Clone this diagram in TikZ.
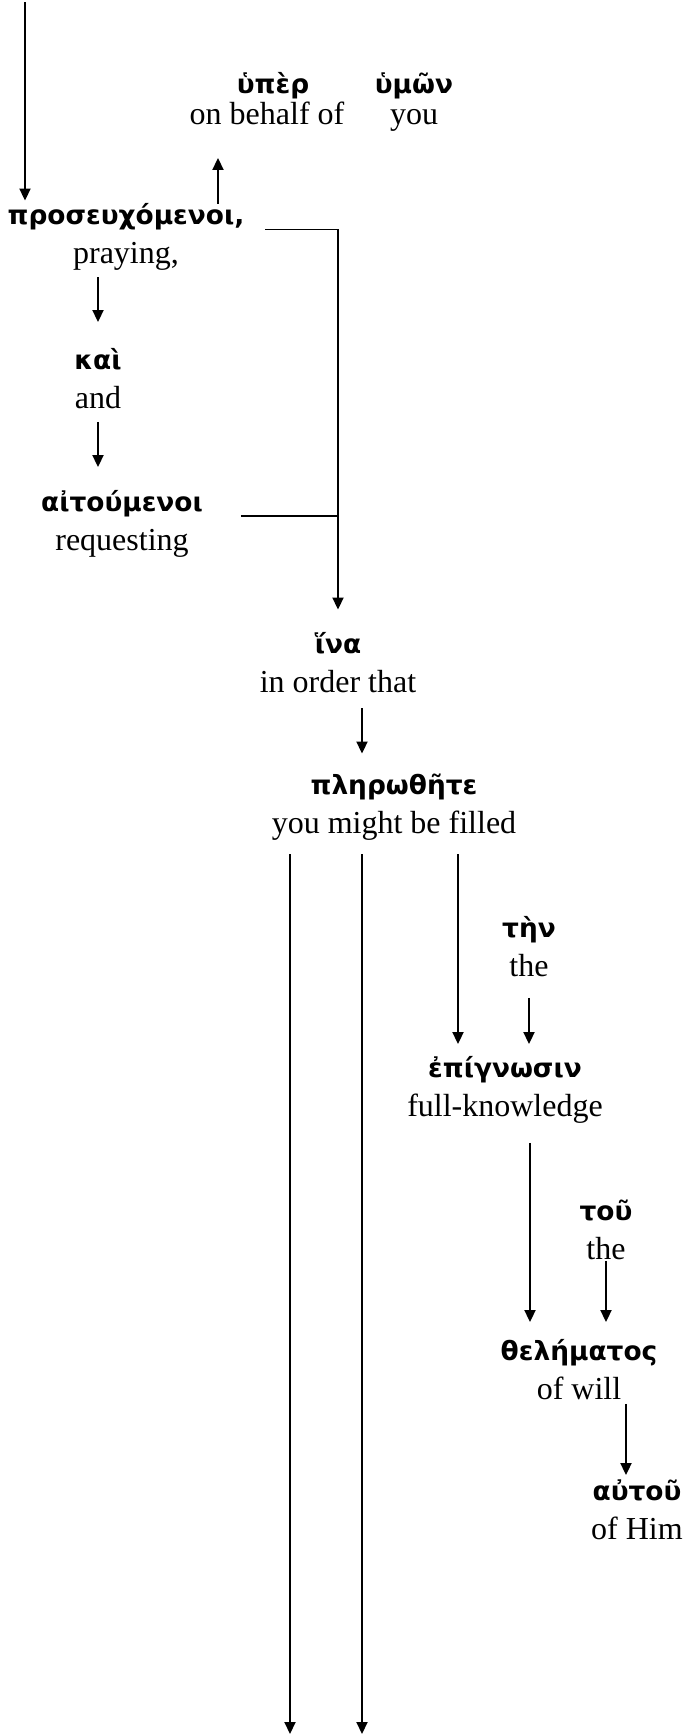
\documentclass[tikz,border=0pt]{standalone}
\usepackage{fontspec}
\setmainfont{Liberation Serif}
\newfontfamily\gkfont{DejaVu Sans}
\usetikzlibrary{arrows.meta}
% greek word over its english gloss
\newcommand{\gr}[1]{{\gkfont\bfseries\fontsize{13.2}{19.5}\selectfont\rule{0pt}{12pt}#1}}
\newcommand{\gloss}[2]{\gr{#1}\\\rule[-4pt]{0pt}{4pt}#2}
\tikzset{
  >={Triangle[length=6pt,width=5.5pt]}, % solid arrow heads
  word/.style={align=center, inner sep=0pt, font=\fontsize{16}{19.5}\selectfont}, % one word of the text
  link/.style={->}, % connector between words
}

\begin{document}
\begin{tikzpicture}[x=0.5pt, y=-0.5pt, line width=0.95pt]
  \useasboundingbox (0,0) rectangle (686,1735);

  \node[word] (hyper) at (267,100.5) {\hspace*{6pt}\gr{ὑπὲρ}\\[-4pt]\rule[-4pt]{0pt}{4pt}on behalf of};
  \node[word] (hymon) at (414,100.5) {\gr{ὑμῶν}\\[-4pt]\rule[-4pt]{0pt}{4pt}you};
  \node[word] (prosev) at (126,236) {\gloss{προσευχόμενοι,}{praying,}};
  \node[word] (kai) at (98,380.5) {\gloss{καὶ}{and}};
  \node[word] (aitou) at (122,522.5) {\gloss{αἰτούμενοι}{requesting}};
  \node[word] (ina) at (338,665) {\gloss{ἵνα}{in order that}};
  \node[word] (plero) at (394,806) {\gloss{πληρωθῆτε}{you might be filled}};
  \node[word] (ten) at (529,948.5) {\gloss{τὴν}{the}};
  \node[word] (epig) at (505,1088.5) {\gloss{ἐπίγνωσιν}{full-knowledge}};
  \node[word] (tou) at (606,1231.5) {\gloss{τοῦ}{the}};
  \node[word] (thel) at (579,1371.5) {\gloss{θελήματος}{of will}};
  \node[word] (autou) at (637,1511.5) {\gloss{αὐτοῦ}{of Him}};

  \coordinate (top) at (25,2);
  \coordinate (bottom) at (0,1734);

  \draw[link, shorten >=-0.5pt] (top) -- (top |- prosev.north);
  \draw[link, shorten <=-2pt, shorten >=12.5pt] (218,0 |- prosev.north) -- (218,0 |- hyper.south);
  \draw[link, shorten <=10pt, shorten >=9.5pt] ([yshift=3.25pt]prosev.east) -| (ina.north);
  \draw[shorten <=18.5pt] ([yshift=3.25pt]aitou.east) coordinate (aj) -- (aj -| ina.north);
  \draw[link, shorten <=2.5pt, shorten >=11pt] (prosev.south -| kai) -- (kai.north);
  \draw[link, shorten <=2.5pt, shorten >=9.5pt] (kai.south) -- (kai.south |- aitou.north);
  \draw[link, shorten <=3.5pt, shorten >=8pt] ([xshift=12pt]ina.south) coordinate (ip) -- (ip |- plero.north);
  \draw[link, shorten <=6pt] ([xshift=-52pt]plero.south) coordinate (p1) -- (p1 |- bottom);
  \draw[link, shorten <=6pt] ([xshift=-16pt]plero.south) coordinate (p2) -- (p2 |- bottom);
  \draw[link, shorten <=6pt, shorten >=4pt] ([xshift=32pt]plero.south) coordinate (p3) -- (p3 |- epig.north);
  \draw[link, shorten <=6.5pt, shorten >=4pt] (ten.south) -- (ten.south |- epig.north);
  \draw[link, shorten <=9pt, shorten >=6.5pt] ([xshift=12.5pt]epig.south) coordinate (e1) -- (e1 |- thel.north);
  \draw[link, shorten <=-3.5pt, shorten >=6.5pt] (tou.south) -- (tou.south |- thel.north);
  \draw[link, shorten <=-2pt] ([xshift=23.5pt]thel.south) coordinate (h1) -- (h1 |- autou.north);
\end{tikzpicture}
\end{document}
